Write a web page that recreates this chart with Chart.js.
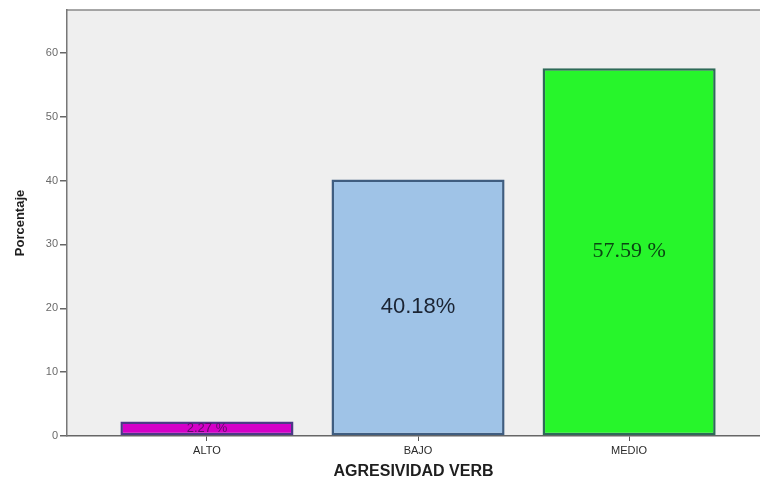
<!DOCTYPE html>
<html>
<head>
<meta charset="utf-8">
<title>Agresividad verbal</title>
<script src="https://cdn.jsdelivr.net/npm/chart.js@4/dist/chart.umd.min.js"></script>
<style>
  html, body { margin: 0; padding: 0; background: #ffffff; }
  #wrap { width: 760px; height: 483px; position: relative; }
</style>
</head>
<body>
<div id="wrap"><canvas id="barChart"></canvas></div>
<script>
// --- data ---
const categories = ['ALTO', 'BAJO', 'MEDIO'];
const percentages = [2.27, 40.18, 57.59];
const valueLabels = ['2.27 %', '40.18%', '57.59 %'];
const yTicks = [0, 10, 20, 30, 40, 50, 60];

// --- per-bar styling ---
const fillColors = ['#d400c8', '#9fc3e7', '#27f52b'];
const edgeColors = ['#4b3a86', '#3f5d80', '#2e6a58'];
const labelStyles = [
    { font: '13px Arial, "Liberation Sans", sans-serif', color: '#5e0a6a' },
    { font: '22px Arial, "Liberation Sans", sans-serif', color: '#1b2433' },
    { font: '22px "Times New Roman", "Liberation Serif", serif', color: '#0a4512' }
];

Chart.defaults.font.family = 'Arial, "Liberation Sans", sans-serif';

// grey plot panel behind the bars, with the top frame line
const panelPlugin = {
    id: 'panel',
    beforeDraw(chart) {
        const { ctx, chartArea: a } = chart;
        ctx.save();
        ctx.fillStyle = '#efefef';
        ctx.fillRect(a.left, a.top, a.right - a.left, a.bottom - a.top);
        ctx.strokeStyle = '#8a8a8a';
        ctx.lineWidth = 1.5;
        ctx.beginPath();
        ctx.moveTo(a.left, a.top);
        ctx.lineTo(a.right, a.top);
        ctx.stroke();
        ctx.restore();
    }
};

// percentage text in the middle of each bar
const valueLabelPlugin = {
    id: 'valueLabels',
    afterDatasetsDraw(chart) {
        const ctx = chart.ctx;
        const meta = chart.getDatasetMeta(0);
        ctx.save();
        ctx.textAlign = 'center';
        ctx.textBaseline = 'middle';
        meta.data.forEach((bar, i) => {
            ctx.font = labelStyles[i].font;
            ctx.fillStyle = labelStyles[i].color;
            ctx.fillText(valueLabels[i], bar.x, (bar.y + bar.base) / 2);
        });
        ctx.restore();
    }
};

new Chart(document.getElementById('barChart'), {
    type: 'bar',
    data: {
        datasets: [{
            data: percentages.map((v, i) => ({ x: i, y: v })),
            backgroundColor: fillColors,
            borderColor: edgeColors,
            borderWidth: 2.5,
            borderSkipped: false,
            categoryPercentage: 1,
            barPercentage: 0.82
        }]
    },
    options: {
        responsive: true,
        maintainAspectRatio: false,
        animation: false,
        layout: { padding: { top: 10, right: 0, bottom: 0, left: 0 } },
        plugins: {
            legend: { display: false },
            tooltip: { enabled: false }
        },
        scales: {
            x: {
                type: 'linear',
                offset: false,
                min: -0.663,
                max: 2.62,
                afterBuildTicks: s => { s.ticks = categories.map((c, i) => ({ value: i })); },
                afterFit: s => { s.height = 47; },
                ticks: {
                    callback: v => categories[v],
                    color: '#2a2a2a',
                    font: { size: 11 },
                    padding: 3,
                    maxRotation: 0
                },
                grid: { offset: false, drawOnChartArea: false, tickLength: 5, color: '#555', lineWidth: 1 },
                border: { color: '#666', width: 1.5 },
                title: {
                    display: true,
                    text: 'AGRESIVIDAD VERB',
                    color: '#1e1e1e',
                    font: { size: 16, weight: 'bold' },
                    padding: { top: 0, bottom: 2 }
                }
            },
            y: {
                min: 0,
                max: 66.7,
                afterBuildTicks: s => { s.ticks = yTicks.map(v => ({ value: v })); },
                afterFit: s => { s.width = 67; },
                ticks: { color: '#6a6a6a', font: { size: 11 }, padding: 2 },
                grid: { drawOnChartArea: false, tickLength: 7, color: '#666', lineWidth: 1.5 },
                border: { color: '#777', width: 1.5 },
                title: {
                    display: true,
                    text: 'Porcentaje',
                    color: '#1e1e1e',
                    font: { size: 13, weight: 'bold' },
                    padding: { top: 13, bottom: 0 }
                }
            }
        }
    },
    plugins: [panelPlugin, valueLabelPlugin]
});
</script>
</body>
</html>
